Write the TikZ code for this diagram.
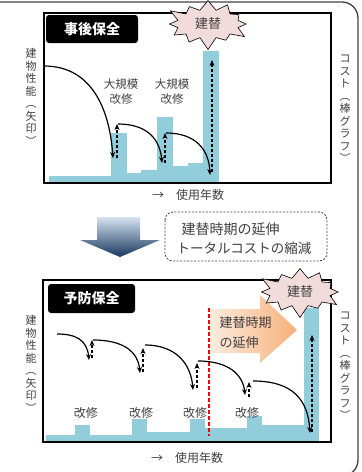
\documentclass[tikz,border=0pt]{standalone}
\usepackage{fontspec}
\setmainfont{Noto Sans CJK JP}
\usetikzlibrary{arrows.meta}
\usetikzlibrary{shapes.symbols}
\definecolor{barblue}{RGB}{146,205,220}
\definecolor{burstpink}{RGB}{242,220,219}
\definecolor{inkgray}{RGB}{64,64,64}
\definecolor{arrowtop}{RGB}{214,226,241}
\definecolor{arrowbottom}{RGB}{23,55,94}
\definecolor{peachlight}{RGB}{253,236,222}
\definecolor{peachdark}{RGB}{246,176,122}
\tikzstyle{panel}=[draw=black, line width=1.3pt]
\tikzstyle{bar}=[fill=barblue]
\tikzstyle{titlebox}=[fill=black, rounded corners=3pt, text=white, font=\bfseries\fontsize{14}{14}\selectfont]
\tikzstyle{vlabel}=[align=center, text=inkgray, inner sep=0, font=\fontsize{11}{12.5}\selectfont]
\tikzstyle{label}=[align=center, text=inkgray, inner sep=0, font=\fontsize{12}{15}\selectfont]
\tikzstyle{burst}=[starburst, starburst points=12, starburst point height=13pt, inner xsep=9pt, inner ysep=4pt, draw, line width=0.6pt, fill=burstpink, text=inkgray, font=\fontsize{13}{13}\selectfont]
\tikzstyle{drop}=[line width=1.2pt, -{Stealth[length=6pt, width=5pt]}]
\tikzstyle{lift}=[line width=1.2pt, dashed, dash pattern=on 3pt off 2pt, -{Stealth[length=6pt, width=5pt]}]

\begin{document}
\begin{tikzpicture}[x=1pt, y=-1pt]
    \clip (0, 0) rectangle (362, 472);
    \draw[inkgray, line width=1.3pt, rounded corners=16pt] (-20, 2) -- (358, 2) -- (358, 476) -- (-20, 476);

    % top panel
    \fill[bar] (49, 176) rectangle (111, 183);
    \fill[bar] (111, 133) rectangle (127, 183);
    \fill[bar] (127, 173) rectangle (141, 183);
    \fill[bar] (141, 170) rectangle (157, 183);
    \fill[bar] (157, 117) rectangle (173, 183);
    \fill[bar] (173, 166) rectangle (188, 183);
    \fill[bar] (188, 163) rectangle (203, 183);
    \fill[bar] (203, 51) rectangle (219, 183);
    \draw[panel] (44, 13) rectangle (331, 183);
    \node[titlebox, minimum width=92pt, minimum height=28pt] (afterTitle) at (92, 29) {事後保全};
    \node[burst] (rebuildTop) at (208, 24) {建替};
    \node[vlabel] (perfTop) at (31, 97) {建\\物\\性\\能\\︵\\矢\\印\\︶};
    \node[vlabel] (costTop) at (345, 109) {コ\\ス\\ト\\︵\\棒\\グ\\ラ\\フ\\︶};
    \node[label] (yearsTop) at (188, 195) {→　使用年数};
    \node[label, font=\fontsize{11.5}{15}\selectfont] (majorA) at (121, 92) {大規模\\改修};
    \node[label, font=\fontsize{11.5}{15}\selectfont] (majorB) at (172, 92) {大規模\\改修};

    \coordinate (ta0) at (44, 66);
    \coordinate (ta1) at (113, 158);
    \coordinate (tb0) at (118, 124);
    \coordinate (tb1) at (162, 163);
    \coordinate (tc0) at (166, 133);
    \coordinate (tc1) at (210, 175);
    \draw[drop] (ta0) .. controls (95, 66) and (110, 115) .. (ta1);
    \draw[drop] (tb0) .. controls (148, 124) and (160, 140) .. (tb1);
    \draw[drop] (tc0) .. controls (196, 133) and (209, 150) .. (tc1);
    \draw[lift] (117, 158) -- (117, 124);
    \draw[lift] (165, 163) -- (165, 133);
    \draw[lift] (212, 172) -- (212, 60);

    % middle
    \shade[top color=arrowtop, bottom color=arrowbottom] (97, 217) -- (140, 217) -- (140, 240) -- (160, 240) -- (120, 257) -- (80, 240) -- (97, 240) -- cycle;
    \draw[inkgray, line width=0.8pt, dash pattern=on 2pt off 1.5pt, rounded corners=8pt] (165, 212) rectangle (327, 261);
    \node[anchor=west, text=inkgray, font=\fontsize{14}{14}\selectfont] (lineA) at (178, 229) {建替時期の延伸};
    \node[anchor=west, text=inkgray, font=\fontsize{13.5}{14}\selectfont] (lineB) at (173, 248) {トータルコストの縮減};

    % bottom panel
    \fill[bar] (46, 435) rectangle (75, 442);
    \fill[bar] (75, 425) rectangle (90, 442);
    \fill[bar] (90, 435) rectangle (132, 442);
    \fill[bar] (132, 419) rectangle (147, 442);
    \fill[bar] (147, 432) rectangle (190, 442);
    \fill[bar] (190, 419) rectangle (205, 442);
    \fill[bar] (205, 428) rectangle (247, 442);
    \fill[bar] (247, 416) rectangle (262, 442);
    \fill[bar] (262, 425) rectangle (304, 442);
    \fill[bar] (304, 308) rectangle (319, 442);
    \shade[left color=peachlight, right color=peachdark] (210, 309) -- (260, 309) -- (260, 295) -- (297, 330) -- (260, 363) -- (260, 353) -- (210, 353) -- cycle;
    \draw[red, line width=1.2pt, dashed, dash pattern=on 4pt off 2pt] (209, 308) -- (209, 436);
    \draw[panel] (43, 280) rectangle (331, 442);
    \node[titlebox, minimum width=87pt, minimum height=29pt] (preventTitle) at (91.5, 298.5) {予防保全};
    \node[burst] (rebuildBottom) at (300, 292) {建替};
    \node[anchor=west, align=left, text=inkgray, font=\fontsize{13}{20}\selectfont] (extendText) at (216, 333) {建替時期\\の延伸};
    \node[vlabel] (perfBottom) at (31, 364) {建\\物\\性\\能\\︵\\矢\\印\\︶};
    \node[vlabel] (costBottom) at (345, 366) {コ\\ス\\ト\\︵\\棒\\グ\\ラ\\フ\\︶};
    \node[label] (yearsBottom) at (187, 458) {→　使用年数};
    \node[label] (repairA) at (86, 413) {改修};
    \node[label] (repairB) at (141, 413) {改修};
    \node[label] (repairC) at (195, 413) {改修};
    \node[label] (repairD) at (247, 413) {改修};

    \coordinate (ba0) at (57, 334);
    \coordinate (ba1) at (89, 360);
    \coordinate (bb0) at (93, 340);
    \coordinate (bb1) at (140, 373);
    \coordinate (bc0) at (145, 345);
    \coordinate (bc1) at (193, 390);
    \coordinate (bd0) at (198, 361);
    \coordinate (bd1) at (245, 395);
    \coordinate (be0) at (253, 381);
    \coordinate (be1) at (310, 433);
    \draw[drop] (ba0) .. controls (76, 334) and (87, 340) .. (ba1);
    \draw[drop] (bb0) .. controls (124, 340) and (138, 352) .. (bb1);
    \draw[drop] (bc0) .. controls (177, 345) and (191, 365) .. (bc1);
    \draw[drop] (bd0) .. controls (229, 361) and (243, 375) .. (bd1);
    \draw[drop] (be0) .. controls (293, 381) and (308, 400) .. (be1);
    \draw[lift] (92, 358) -- (92, 340);
    \draw[lift] (143, 372) -- (143, 348);
    \draw[lift] (197, 388) -- (197, 363);
    \draw[lift] (249, 397) -- (249, 382);
    \draw[lift] (312, 432) -- (312, 335);
\end{tikzpicture}
\end{document}
